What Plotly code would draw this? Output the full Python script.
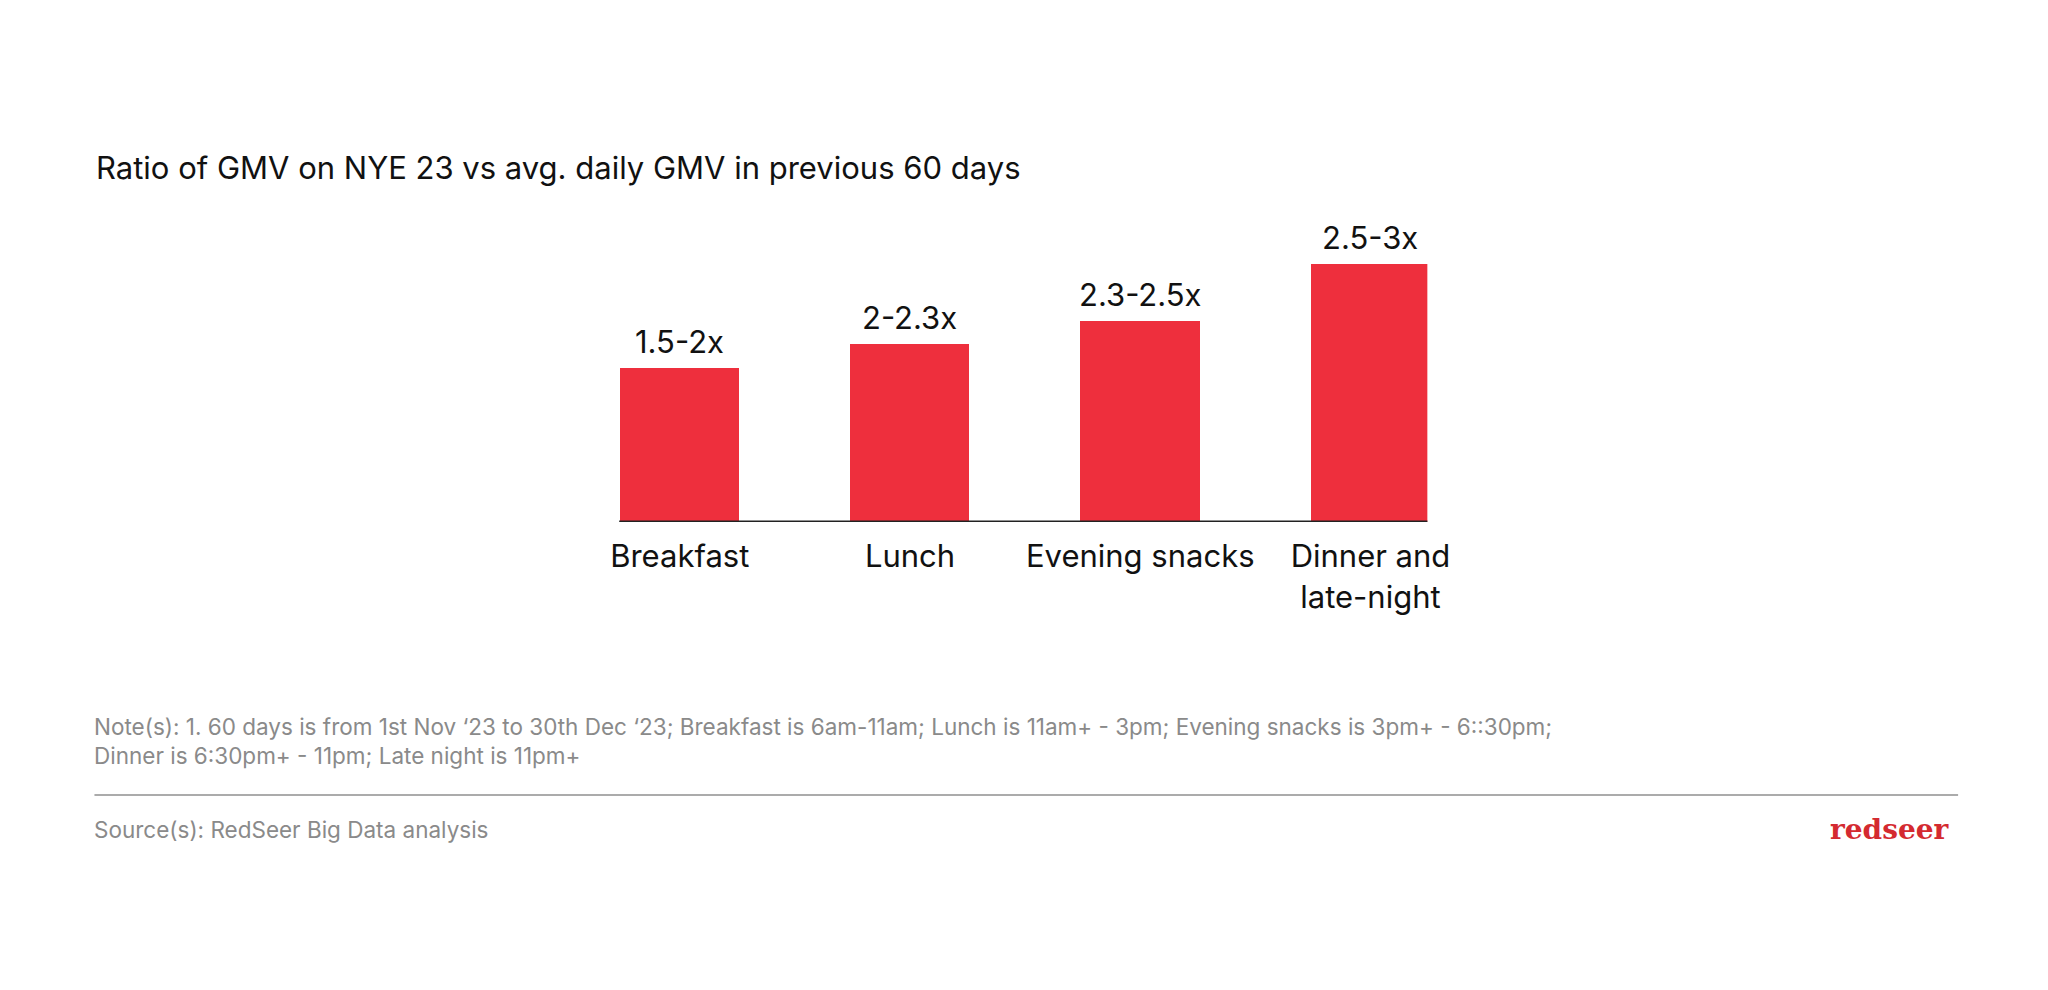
import plotly.graph_objects as go

categories = ["Breakfast", "Lunch", "Evening snacks", "Dinner and<br>late-night"]
bar_heights = [1.54, 1.78, 2.01, 2.58]
value_labels = ["1.5-2x", "2-2.3x", "2.3-2.5x", "2.5-3x"]

title_text = "Ratio of GMV on NYE 23 vs avg. daily GMV in previous 60 days"
note_text = ("Note(s): 1. 60 days is from 1st Nov \u201823 to 30th Dec \u201823; Breakfast is 6am-11am; "
             "Lunch is 11am+ - 3pm; Evening snacks is 3pm+ - 6::30pm;<br>"
             "Dinner is 6:30pm+ - 11pm; Late night is 11pm+")
source_text = "Source(s): RedSeer Big Data analysis"
logo_text = "<b>redseer</b>"

OFF = 8
W, H = 2048 - 2 * OFF, 990 - 2 * OFF
FONT = "Inter"
RED = "#EE2F3D"
DARK = "#111111"
GREY = "#8a8a8a"


def px(x):
    # target pixel x in the 2048-wide picture -> paper fraction (measured mapping)
    page = 1.01745 * x - 9.97
    return (page - OFF) / W


def py(y):
    return 1 - (y - OFF) / H


fig = go.Figure()
fig.add_trace(go.Bar(
    x=categories, y=bar_heights, width=0.5176,
    marker=dict(color=RED, line=dict(width=0)),
    hoverinfo="skip",
))

for c, v, t in zip(categories, bar_heights, value_labels):
    fig.add_annotation(x=c, y=v, xref="x", yref="y", text=t, showarrow=False,
                       yanchor="bottom", yshift=6,
                       font=dict(family=FONT, size=31, color=DARK))

fig.update_layout(
    width=W, height=H,
    paper_bgcolor="white", plot_bgcolor="white",
    margin=dict(l=0, r=0, t=0, b=0),
    showlegend=False,
    bargap=0,
    xaxis=dict(domain=[px(619), px(1426)], range=[-0.263, 3.247],
               showgrid=False, zeroline=False, showline=False,
               ticks="outside", ticklen=7, tickcolor="rgba(0,0,0,0)",
               tickfont=dict(family=FONT, size=31, color=DARK),
               fixedrange=True),
    yaxis=dict(domain=[py(522), py(222)], range=[0, 3],
               showgrid=False, zeroline=False, showline=False,
               showticklabels=False, ticks="", fixedrange=True),
)

# baseline under bars
fig.add_shape(type="line", xref="paper", yref="y", x0=px(619), x1=px(1426), y0=0, y1=0,
              line=dict(color="#222222", width=3))

# title
fig.add_annotation(x=px(94.7), y=py(167), xref="paper", yref="paper",
                   xanchor="left", yanchor="middle", showarrow=False,
                   text=title_text,
                   font=dict(family=FONT, size=31, color=DARK))

# note
fig.add_annotation(x=px(93), y=py(741), xref="paper", yref="paper",
                   xanchor="left", yanchor="middle", showarrow=False, align="left",
                   text=note_text,
                   font=dict(family=FONT, size=22.5, color=GREY))

# separator line
fig.add_shape(type="line", xref="paper", yref="paper",
              x0=px(95), x1=px(1956), y0=py(795), y1=py(795),
              line=dict(color="#8f8f8f", width=1.5))

# source
fig.add_annotation(x=px(93), y=py(829), xref="paper", yref="paper",
                   xanchor="left", yanchor="middle", showarrow=False,
                   text=source_text,
                   font=dict(family=FONT, size=22.5, color=GREY))

# logo text
fig.add_annotation(x=px(1950), y=py(829), xref="paper", yref="paper",
                   xanchor="right", yanchor="middle", showarrow=False,
                   text=logo_text,
                   font=dict(family="DejaVu Serif", size=28, color="#D42A30"))

fig.write_html("out.html")
